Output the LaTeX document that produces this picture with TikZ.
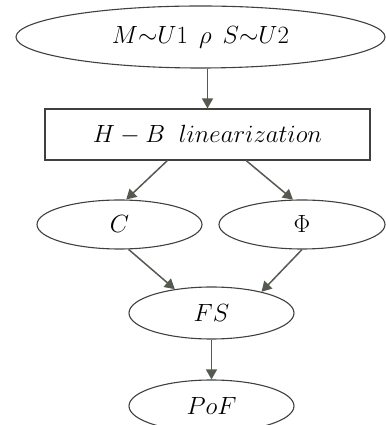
\documentclass[tikz,border=0pt]{standalone}
\usepackage{amsmath, amssymb}
\usepackage{tikz}
\usetikzlibrary{shapes.geometric, arrows.meta, positioning, calc}
\usepackage{xcolor}
\definecolor{edgegray}{HTML}{404040}
\definecolor{arrowgray}{HTML}{555A50}

\begin{document}
\begin{tikzpicture}[x=1pt, y=1pt,
        state/.style={draw=edgegray, ellipse, line width=1.1pt, inner sep=0pt, minimum width=165pt, minimum height=50pt, font=\fontsize{24}{28}\selectfont},
        block/.style={draw=edgegray, rectangle, line width=1.1pt, inner sep=0pt, minimum width=325pt, minimum height=51pt, font=\fontsize{24}{28}\selectfont},
        arrow/.style={draw=arrowgray, line width=1.5pt, -{Triangle[length=10pt, width=11pt]}, arrowgray}
    ]
        \useasboundingbox (0,0) rectangle (385,425);

        \node[state, minimum width=369pt, minimum height=62pt] (dist) at (200.5, 388) {$M{\sim}U1\;\,\rho\;\,S{\sim}U2$};

        \node[block] (hb) at (207.5, 290.5) {$H-B\;\;linearization$};

        \node[state, minimum height=49pt] (cc) at (119.5, 200.5) {$C$};
        \node[state, minimum width=166pt, minimum height=49pt] (phi) at (302, 200.5) {$\Phi$};

        \node[state, minimum height=52pt] (fs) at (211.5, 112) {$FS$};
        \node[state, minimum height=52pt] (pof) at (211.5, 19) {$PoF$};

        \draw[arrow] (dist.south -| hb.north) -- (hb.north);
        \draw[arrow] (hb.213) -- (cc.75);
        \draw[arrow] (hb.326) -- (phi.110);

        \draw[arrow] (cc.290) -- (fs.147);
        \draw[arrow] (phi.south) -- (fs.23);
        \draw[arrow] (fs.south) -- (pof.north);

    \end{tikzpicture}
\end{document}
